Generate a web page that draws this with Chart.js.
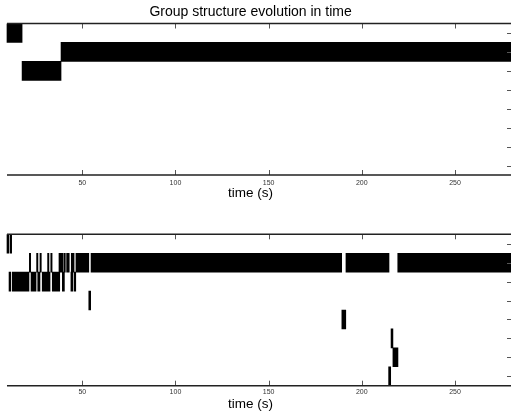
<!DOCTYPE html>
<html>
<head>
<meta charset="utf-8">
<script src="https://cdn.jsdelivr.net/npm/chart.js@4"></script>
<style>
  html, body { margin: 0; padding: 0; background: #fff; overflow: hidden; }
  .panel { position: absolute; left: -20px; width: 540px; }
  #top { top: 0; height: 210px; }
  #bottom { top: 215px; height: 202px; }
</style>
</head>
<body>
<div class="panel" id="top"><canvas id="top-chart"></canvas></div>
<div class="panel" id="bottom"><canvas id="bottom-chart"></canvas></div>
<script>
const rows = [1, 2, 3, 4, 5, 6, 7, 8];
const xTicks = [50, 100, 150, 200, 250];
const xMax = 280.6;
const axisStart = 9.6;

// top panel: one interval per entry (group row, start time, end time)
const topRow   = [1,    3,    2];
const topStart = [9.6,  17.7, 38.6];
const topEnd   = [17.7, 38.6, 280.6];

// bottom panel
const botRow = [1, 1,
  2, 2, 2, 2, 2, 2, 2, 2, 2, 2, 2, 2, 2,
  3, 3, 3, 3, 3, 3, 3, 3, 3,
  4, 5, 6, 7, 8];
const botStart = [9.6, 11.2,
  21.6, 25.5, 27.3, 31.4, 33.1, 37.5, 40.2, 41.6, 44.1, 46.6, 54.7, 191.5, 219.3,
  10.7, 12.4, 22.5, 26.1, 28.5, 33.9, 39.3, 43.9, 45.6,
  53.5, 189.3, 215.7, 216.7, 214.4];
const botEnd = [10.5, 12.1,
  22.3, 26.2, 28.0, 32.1, 33.8, 39.7, 40.9, 43.0, 45.6, 53.5, 189.2, 214.6, 280.6,
  11.6, 21.4, 25.2, 27.3, 32.7, 37.9, 40.4, 44.9, 46.5,
  54.5, 191.4, 216.7, 219.4, 215.5];

const FONT = "'Liberation Sans', Arial, Helvetica, sans-serif";

// matlab-like box: top/bottom lines and ticks pointing inward
const boxTicks = {
  id: 'boxTicks',
  afterDatasetsDraw(chart) {
    const { ctx, chartArea: a, scales: { x, y } } = chart;
    const left = x.getPixelForValue(axisStart);
    ctx.save();
    ctx.strokeStyle = '#555';
    ctx.lineWidth = 1;
    ctx.beginPath();
    x.ticks.forEach(t => {
      const px = Math.round(x.getPixelForValue(t.value)) + 0.5;
      if (px < left) return;
      ctx.moveTo(px, a.top); ctx.lineTo(px, a.top + 5);
      ctx.moveTo(px, a.bottom); ctx.lineTo(px, a.bottom - 5);
    });
    y.ticks.forEach(t => {
      const py = Math.round(y.getPixelForValue(t.value)) + 0.5;
      ctx.moveTo(a.right, py); ctx.lineTo(a.right - 5, py);
    });
    ctx.stroke();
    ctx.strokeStyle = '#222';
    ctx.lineWidth = 1.5;
    ctx.beginPath();
    ctx.moveTo(left, a.top); ctx.lineTo(a.right, a.top);
    ctx.moveTo(left, a.bottom); ctx.lineTo(a.right, a.bottom);
    ctx.stroke();
    ctx.restore();
  }
};

function makeChart(id, rowArr, startArr, endArr, cfg) {
  return new Chart(document.getElementById(id), {
    type: 'bar',
    data: {
      datasets: [{
        data: rowArr.map((r, i) => ({ y: r, x: [startArr[i], endArr[i]] })),
        backgroundColor: '#000',
        borderWidth: 0,
        barPercentage: 1,
        categoryPercentage: 1
      }]
    },
    options: {
      indexAxis: 'y',
      responsive: true,
      maintainAspectRatio: false,
      animation: false,
      layout: { padding: { left: 9.1, right: 8, top: cfg.padTop, bottom: 0 } },
      plugins: {
        legend: { display: false },
        tooltip: { enabled: false },
        title: {
          display: !!cfg.title,
          text: cfg.title || '',
          color: '#000',
          font: { family: FONT, size: 14, weight: 'normal' },
          padding: { top: 3.6, bottom: 3.1 }
        }
      },
      scales: {
        x: {
          type: 'linear',
          min: 0,
          max: xMax,
          afterBuildTicks: s => { s.ticks = xTicks.map(v => ({ value: v })); },
          afterFit: s => { s.height = cfg.xHeight; },
          ticks: { font: { family: FONT, size: 7 }, color: '#333', padding: cfg.tickPad, maxRotation: 0 },
          grid: { display: false, drawTicks: false },
          border: { display: false },
          title: {
            display: true,
            text: 'time (s)',
            color: '#000',
            font: { family: FONT, size: 13.5 },
            padding: { top: 0, bottom: cfg.titlePad }
          }
        },
        y: {
          type: 'linear',
          min: 0.5,
          max: 8.5,
          reverse: true,
          offset: false,
          display: false,
          afterBuildTicks: s => { s.ticks = rows.map(v => ({ value: v })); }
        }
      }
    },
    plugins: [boxTicks]
  });
}

makeChart('top-chart', topRow, topStart, topEnd,
  { title: 'Group structure evolution in time', padTop: 0, xHeight: 35, tickPad: 3.5, titlePad: 8.2 });
makeChart('bottom-chart', botRow, botStart, botEnd,
  { title: '', padTop: 19.3, xHeight: 31.3, tickPad: 2, titlePad: 4.2 });
</script>
</body>
</html>
